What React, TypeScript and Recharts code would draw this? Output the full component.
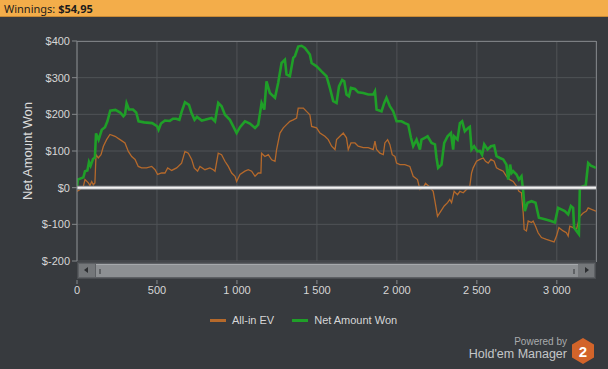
import { LineChart, Line, XAxis, YAxis, CartesianGrid, ReferenceLine } from "recharts";

// hands played (x) and dollars (y)
const netWonHands = [
  0, 5, 40, 50, 65, 75, 85, 100, 112, 119, 135, 155, 175, 190, 208, 240, 270, 290, 300, 310,
  325, 350, 370, 385, 420, 470, 500, 510, 525, 550, 580, 600, 620, 640, 655, 675, 700, 715, 735, 750,
  780, 800, 842, 863, 883, 904, 925, 956, 977, 998, 1019, 1050, 1081, 1113, 1133, 1154, 1171, 1185, 1206, 1238,
  1258, 1279, 1300, 1310, 1331, 1352, 1363, 1383, 1404, 1425, 1456, 1467, 1498, 1529, 1560, 1581, 1602, 1623, 1638, 1658,
  1671, 1685, 1700, 1713, 1738, 1758, 1790, 1821, 1852, 1863, 1873, 1904, 1921, 1935, 1956, 1977, 1998, 2029, 2050, 2071,
  2088, 2102, 2123, 2144, 2154, 2175, 2192, 2217, 2238, 2248, 2258, 2279, 2296, 2317, 2338, 2352, 2358, 2379, 2394, 2408,
  2425, 2446, 2456, 2467, 2483, 2504, 2519, 2533, 2546, 2567, 2588, 2608, 2623, 2644, 2665, 2685, 2696, 2708, 2717, 2727,
  2748, 2763, 2779, 2790, 2800, 2817, 2842, 2867, 2888, 2925, 2963, 2988, 3008, 3050, 3071, 3088, 3102, 3108, 3123, 3138,
  3144, 3165, 3181, 3196, 3213, 3245,
];
const netWonValues = [
  0, 22, 28, 45, 47, 70, 60, 78, 82, 148, 131, 158, 165, 181, 210, 212, 205, 195, 200, 230,
  213, 213, 205, 181, 178, 176, 168, 158, 175, 183, 182, 188, 188, 185, 208, 233, 226, 205, 185, 193,
  183, 185, 190, 181, 231, 222, 199, 185, 167, 149, 165, 181, 175, 163, 172, 231, 213, 290, 258, 245,
  286, 340, 349, 309, 304, 354, 359, 385, 387, 381, 363, 340, 331, 317, 304, 272, 236, 231, 276, 294,
  290, 254, 249, 272, 269, 260, 258, 254, 254, 263, 213, 208, 231, 245, 222, 208, 181, 181, 176, 172,
  136, 113, 131, 104, 131, 136, 140, 122, 118, 81, 54, 63, 122, 140, 149, 104, 140, 131, 176, 181,
  154, 163, 166, 104, 113, 99, 100, 90, 118, 104, 113, 115, 86, 81, 77, 63, 22, 63, 40, 45,
  36, 22, 31, -10, -64, -41, -37, -41, -82, -86, -91, -95, -55, -64, -73, -50, -55, -109, -118, -127,
  0, 4, 6, 67, 60, 54,
];

const allInEvHands = [
  0, 19, 40, 50, 71, 81, 92, 102, 112, 119, 133, 150, 165, 185, 206, 238, 269, 300, 321, 342,
  363, 383, 404, 435, 467, 488, 504, 529, 550, 567, 592, 623, 654, 675, 696, 717, 733, 754, 769, 800,
  831, 852, 863, 883, 904, 925, 946, 967, 988, 998, 1019, 1050, 1071, 1092, 1113, 1133, 1150, 1154, 1175, 1196,
  1217, 1238, 1248, 1269, 1290, 1310, 1331, 1352, 1373, 1383, 1415, 1435, 1456, 1467, 1498, 1519, 1550, 1571, 1592, 1613,
  1623, 1644, 1665, 1685, 1696, 1713, 1738, 1758, 1790, 1821, 1852, 1863, 1873, 1894, 1915, 1925, 1942, 1956, 1971, 1988,
  1998, 2019, 2050, 2081, 2102, 2129, 2144, 2165, 2179, 2200, 2227, 2238, 2254, 2275, 2296, 2317, 2331, 2342, 2358, 2379,
  2394, 2415, 2435, 2456, 2467, 2477, 2498, 2519, 2540, 2554, 2571, 2588, 2608, 2623, 2644, 2665, 2685, 2706, 2727, 2748,
  2763, 2779, 2790, 2796, 2810, 2821, 2842, 2852, 2867, 2883, 2904, 2935, 2963, 2983, 2998, 3013, 3040, 3060, 3071, 3081,
  3102, 3123, 3144, 3165, 3185, 3196, 3217, 3245,
];
const allInEvValues = [
  -10, -5, 4, 22, 13, 6, 17, 8, 13, 90, 81, 90, 113, 131, 145, 140, 131, 122, 99, 85,
  77, 58, 54, 54, 58, 49, 36, 40, 40, 54, 47, 54, 67, 99, 94, 77, 54, 45, 58, 49,
  54, 49, 45, 94, 90, 72, 58, 40, 31, 17, 36, 45, 49, 45, 31, 40, 40, 94, 85, 90,
  76, 72, 104, 149, 163, 172, 181, 185, 190, 217, 217, 208, 199, 167, 163, 149, 140, 131, 113, 104,
  131, 140, 149, 136, 104, 122, 122, 113, 109, 109, 104, 127, 104, 94, 90, 122, 131, 118, 90, 85,
  67, 63, 63, 58, 31, 22, -5, 0, 12, 4, -10, -37, -78, -64, -50, -41, -32, -41, -10, -19,
  -10, -14, -5, 4, 40, 54, 72, 77, 81, 72, 67, 77, 72, 54, 49, 45, 31, 22, 17, 4,
  -10, -14, -69, -114, -118, -91, -95, -91, -105, -123, -136, -141, -145, -148, -132, -109, -118, -123, -132, -105,
  -109, -114, -78, -69, -64, -55, -59, -64,
];

const xTicks = [0, 500, 1000, 1500, 2000, 2500, 3000];
const yTicks = [-200, -100, 0, 100, 200, 300, 400];

const seriesNames = ["All-in EV", "Net Amount Won"];
const seriesColors = ["#b5692b", "#1f9f28"];

const netWonData = netWonHands.map((hands, i) => ({ hands, value: netWonValues[i] }));
const allInEvData = allInEvHands.map((hands, i) => ({ hands, value: allInEvValues[i] }));

const FONT = "'Liberation Sans', Arial, sans-serif";

const fmtHands = (v: number) =>
  v >= 1000 ? `${Math.floor(v / 1000)} ${String(v % 1000).padStart(3, "0")}` : String(v);

const XTick = ({ x, y, payload }: any) => (
  <g>
    <line x1={x} x2={x} y1={y + 2} y2={y + 6} stroke="#85888b" />
    <text x={x} y={y + 16} textAnchor="middle" fill="#d6d6d6" fontSize={11} fontFamily={FONT}>
      {fmtHands(payload.value)}
    </text>
  </g>
);

function ScrollBar() {
  return (
    <div
      style={{
        position: "absolute",
        left: 77,
        top: 262,
        width: 519,
        height: 17,
        background: "#5d6064",
        border: "1px solid #4a4d51",
        boxSizing: "border-box",
      }}
    >
      <div style={{ position: "absolute", left: 1, top: 1, width: 16, height: 13, background: "#74777a" }}>
        <div
          style={{
            position: "absolute",
            left: 5,
            top: 3,
            width: 0,
            height: 0,
            borderTop: "3.5px solid transparent",
            borderBottom: "3.5px solid transparent",
            borderRight: "4px solid #2c2e31",
          }}
        />
      </div>
      <div
        style={{
          position: "absolute",
          left: 18,
          top: 1,
          width: 482,
          height: 13,
          background: "#8d9093",
          borderTop: "1px solid #a6a9ac",
          boxSizing: "border-box",
        }}
      >
        <div style={{ position: "absolute", left: 3, top: 4, width: 2, height: 5, background: "#5f6265" }} />
        <div style={{ position: "absolute", right: 3, top: 4, width: 2, height: 5, background: "#5f6265" }} />
      </div>
      <div style={{ position: "absolute", right: 1, top: 1, width: 16, height: 13, background: "#74777a" }}>
        <div
          style={{
            position: "absolute",
            left: 7,
            top: 3,
            width: 0,
            height: 0,
            borderTop: "3.5px solid transparent",
            borderBottom: "3.5px solid transparent",
            borderLeft: "4px solid #2c2e31",
          }}
        />
      </div>
    </div>
  );
}

export default function App() {
  return (
    <div
      style={{
        position: "relative",
        width: 608,
        height: 369,
        background: "#373a3e",
        overflow: "hidden",
        fontFamily: FONT,
      }}
    >
      <style>{`body{margin:0}`}</style>

      {/* header strip */}
      <div
        style={{
          position: "absolute",
          left: 0,
          top: 0,
          width: 608,
          height: 17,
          background: "#f3ad4a",
          borderBottom: "1px solid #c98a35",
          color: "#1c1c1c",
          fontSize: 11,
          lineHeight: "17px",
          paddingLeft: 4,
          boxSizing: "border-box",
          fontFamily: "'Noto Sans', 'Open Sans', sans-serif",
        }}
      >
        Winnings: <b>$54,95</b>
      </div>

      <div style={{ position: "absolute", left: 0, top: 0 }}>
        <LineChart width={608} height={300} margin={{ top: 41, right: 12, left: 0, bottom: 0 }}>
          <CartesianGrid stroke="#505357" />
          <XAxis
            type="number"
            dataKey="hands"
            domain={[0, 3245]}
            ticks={xTicks}
            allowDataOverflow
            height={39}
            axisLine={false}
            tickLine={false}
            tickSize={0}
            tickMargin={17}
            tick={<XTick />}
          />
          <YAxis
            type="number"
            domain={[-200, 400]}
            ticks={yTicks}
            width={77}
            tickFormatter={(v: number) => `$${v}`}
            tick={{ fill: "#d6d6d6", fontSize: 11, fontFamily: FONT }}
            tickSize={5}
            tickMargin={2}
            axisLine={{ stroke: "#85888b" }}
            tickLine={{ stroke: "#85888b" }}
            label={{
              value: "Net Amount Won",
              angle: -90,
              position: "center",
              dx: -11,
              fill: "#dcdcdc",
              fontSize: 13,
              fontFamily: FONT,
            }}
          />
          <Line
            data={allInEvData}
            dataKey="value"
            type="linear"
            stroke={seriesColors[0]}
            strokeWidth={1.3}
            dot={false}
            isAnimationActive={false}
          />
          <Line
            data={netWonData}
            dataKey="value"
            type="linear"
            stroke={seriesColors[1]}
            strokeWidth={2.6}
            dot={false}
            isAnimationActive={false}
          />
          <ReferenceLine y={0} stroke="#8e9194" strokeWidth={4} />
          <ReferenceLine y={0} stroke="#f2f2f2" strokeWidth={2} />
        </LineChart>
      </div>

      {/* plot frame */}
      <div
        style={{
          position: "absolute",
          left: 77,
          top: 41,
          width: 520,
          height: 221,
          borderTop: "1px solid #7c7f83",
          borderRight: "1px solid #7c7f83",
          boxSizing: "border-box",
          pointerEvents: "none",
        }}
      />

      <ScrollBar />

      {/* legend */}
      <div
        style={{
          position: "absolute",
          left: 210,
          top: 314,
          display: "flex",
          alignItems: "center",
          fontSize: 11,
          color: "#d6d6d6",
        }}
      >
        {seriesNames.map((name, i) => (
          <div key={name} style={{ display: "flex", alignItems: "center", marginRight: 18 }}>
            <div style={{ width: 16, height: 3, background: seriesColors[i], marginRight: 6 }} />
            <span>{name}</span>
          </div>
        ))}
      </div>

      {/* branding */}
      <div
        style={{
          position: "absolute",
          right: 41,
          top: 336,
          textAlign: "right",
          color: "#a9abad",
          fontSize: 10,
          lineHeight: "11px",
        }}
      >
        Powered by
      </div>
      <div
        style={{
          position: "absolute",
          right: 41,
          top: 347,
          color: "#c4c6c8",
          fontSize: 12.5,
          lineHeight: "15px",
          whiteSpace: "nowrap",
        }}
      >
        Hold'em Manager
      </div>
      <svg style={{ position: "absolute", left: 571, top: 337 }} width={24} height={28}>
        <polygon points="12,1 23,7.5 23,20.5 12,27 1,20.5 1,7.5" fill="#d2642a" />
        <text x={12} y={20} textAnchor="middle" fill="#ffffff" fontSize={15} fontWeight="bold" fontFamily={FONT}>
          2
        </text>
      </svg>
    </div>
  );
}
